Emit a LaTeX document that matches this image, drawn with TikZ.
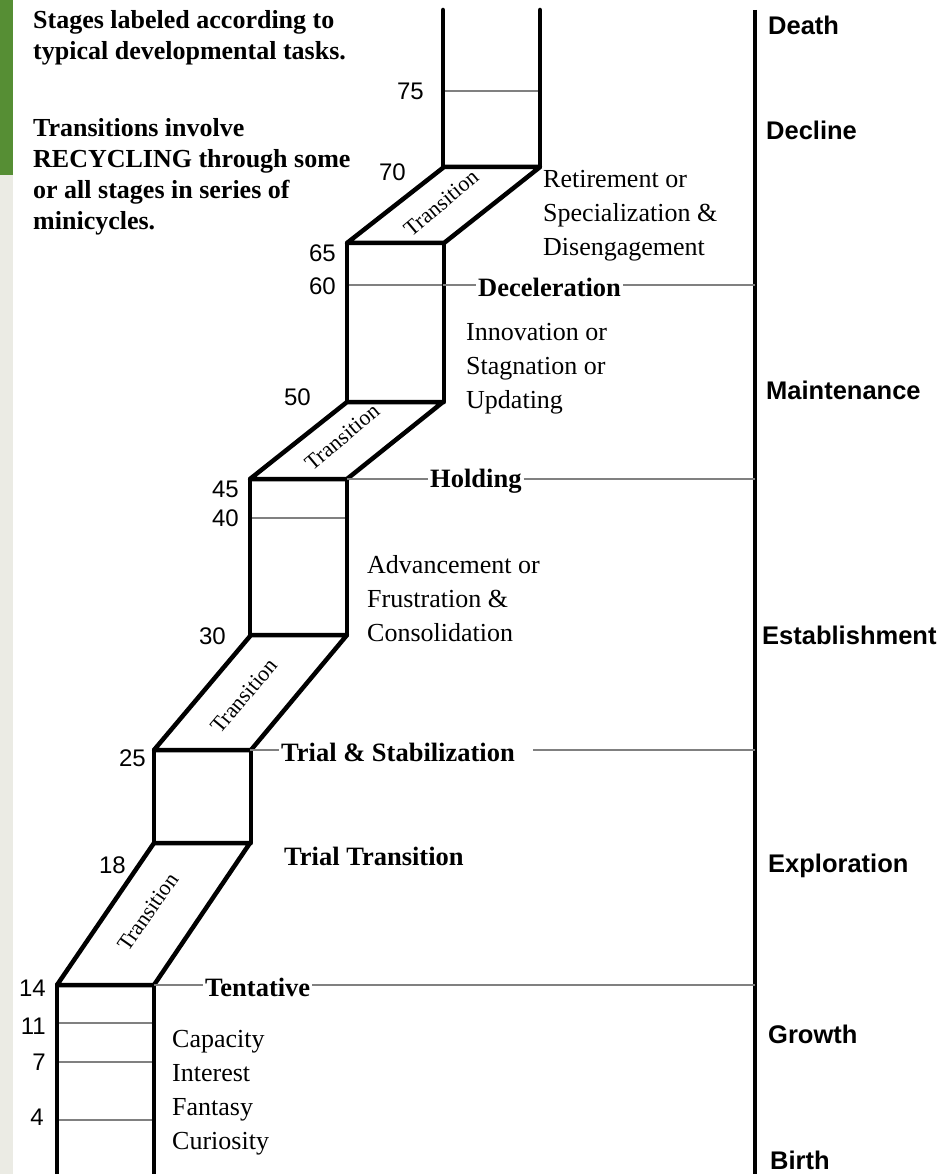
\documentclass[tikz,border=0pt]{standalone}
\usepackage{fontspec}
\setmainfont{Liberation Serif}
\newfontfamily\axisfont{Liberation Sans}
\usetikzlibrary{positioning, calc}
\definecolor{leafgreen}{RGB}{86, 142, 52}
\definecolor{stripgrey}{RGB}{235, 235, 228}
\definecolor{rungcol}{RGB}{128, 128, 128}

\begin{document}
\begin{tikzpicture}[x=1pt, y=-1pt,
    wall/.style={line width=4.5pt, line cap=round, line join=round},
    rung/.style={draw=rungcol, line width=1.8pt},
    age/.style={font=\axisfont\fontsize{24}{26}\selectfont, anchor=east, inner sep=1pt},
    task/.style={font=\fontsize{26}{34}\selectfont, anchor=north west, align=left, inner sep=0pt},
    stage/.style={font=\bfseries\fontsize{26.5}{30}\selectfont, anchor=west, inner sep=2pt},
    phase/.style={font=\axisfont\bfseries\fontsize{25.5}{28}\selectfont, anchor=west, inner sep=0pt},
    trans/.style={font=\fontsize{22}{24}\selectfont, inner sep=0pt}
  ]
  \useasboundingbox (0,0) rectangle (937,1174);
  \fill[stripgrey] (0,175) rectangle (13,1174);
  \fill[leafgreen] (0,0) rectangle (13,175);

  % notes
  \node[font=\bfseries\fontsize{26}{31}\selectfont, anchor=north west, align=left, inner sep=0pt] (note1) at (33,10)
    {Stages labeled according to\\typical developmental tasks.};
  \node[font=\bfseries\fontsize{26}{31}\selectfont, anchor=north west, align=left, inner sep=0pt] (note2) at (33,118)
    {Transitions involve\\RECYCLING through some\\or all stages in series of\\minicycles.};

  % thin age lines inside the columns
  \foreach \xl/\y in {57/1023, 57/1062, 57/1120, 154/843, 250/635, 250/518, 347/402, 347/285, 443/91}
    \draw[rung] (\xl,\y) -- ++(97,0);

  % the stair of columns and transitions
  \foreach \xl/\yb/\yt in {57/1174/985, 154/843/750, 250/635/479, 347/402/243, 443/167/10}
    \draw[wall] (\xl,\yb) -- (\xl,\yt) (\xl+97,\yb) -- (\xl+97,\yt);
  \foreach \xl/\yb/\yt in {57/985/843, 154/750/635, 250/479/402, 347/243/167}
    \draw[wall] (\xl,\yb) -- (\xl+97,\yb) -- (\xl+193,\yt) -- (\xl+97,\yt) -- cycle;

  % transition labels
  \node[trans, rotate=55] (tr1) at (148,912) {Transition};
  \node[trans, rotate=50] (tr2) at (244,696) {Transition};
  \node[trans, rotate=40] (tr3) at (342,437) {Transition};
  \node[trans, rotate=40] (tr4) at (441,203) {Transition};

  % ages
  \node[age] (a75) at (425,91) {75};
  \node[age] (a70) at (407,172) {70};
  \node[age] (a65) at (337,253) {65};
  \node[age] (a60) at (337,286) {60};
  \node[age] (a50) at (312,397) {50};
  \node[age] (a45) at (240,489) {45};
  \node[age] (a40) at (240,518) {40};
  \node[age] (a30) at (227,636) {30};
  \node[age] (a25) at (147,758) {25};
  \node[age] (a18) at (127,865) {18};
  \node[age] (a14) at (47,988) {14};
  \node[age] (a11) at (47,1026) {11};
  \node[age] (a7) at (47,1062) {7};
  \node[age] (a4) at (45,1117) {4};

  % tasks of each stage
  \node[task] (retire) at (543,170) {Retirement or\\Specialization \&\\Disengagement};
  \node[task] (innov) at (466,323) {Innovation or\\Stagnation or\\Updating};
  \node[task] (advance) at (367,555) {Advancement or\\Frustration \&\\Consolidation};
  \node[task] (capacity) at (172,1030) {Capacity\\Interest\\Fantasy\\Curiosity};
  \node[stage] (trialtr) at (282,856) {Trial Transition};

  % life axis
  \coordinate (axtop) at (755,10);
  \coordinate (axbot) at (755,1174);
  \draw[line width=3.5pt] (axtop) -- (axbot);
  \node[phase] (death) at (768,25) {Death};
  \node[phase] (decline) at (766,130) {Decline};
  \node[phase] (maint) at (766,390) {Maintenance};
  \node[phase] (estab) at (762,635) {Establishment};
  \node[phase] (explor) at (768,866) {Exploration};
  \node[phase] (growth) at (768,1034) {Growth};
  \node[phase] (birth) at (770,1160) {Birth};

  % stage boundaries
  \coordinate (c60) at (443,285);
  \coordinate (c45) at (347,479);
  \coordinate (c25) at (250,750);
  \coordinate (c14) at (154,985);
  \node[stage] (decel) at (476,287) {Deceleration};
  \node[stage] (holding) at (428,481) {Holding};
  \node[stage] (trialstab) at (279,752) {Trial \& Stabilization};
  \node[stage] (tentative) at (203,987) {Tentative};
  \coordinate (gap25) at ([xshift=16pt]trialstab.east);
  \draw[rung] (c60) -- (decel.west |- c60) (decel.east |- c60) -- (c60 -| axtop);
  \draw[rung] (c45) -- (holding.west |- c45) (holding.east |- c45) -- (c45 -| axtop);
  \draw[rung] (c25) -- (trialstab.west |- c25) (gap25 |- c25) -- (c25 -| axtop);
  \draw[rung] (c14) -- (tentative.west |- c14) (tentative.east |- c14) -- (c14 -| axtop);
\end{tikzpicture}
\end{document}
